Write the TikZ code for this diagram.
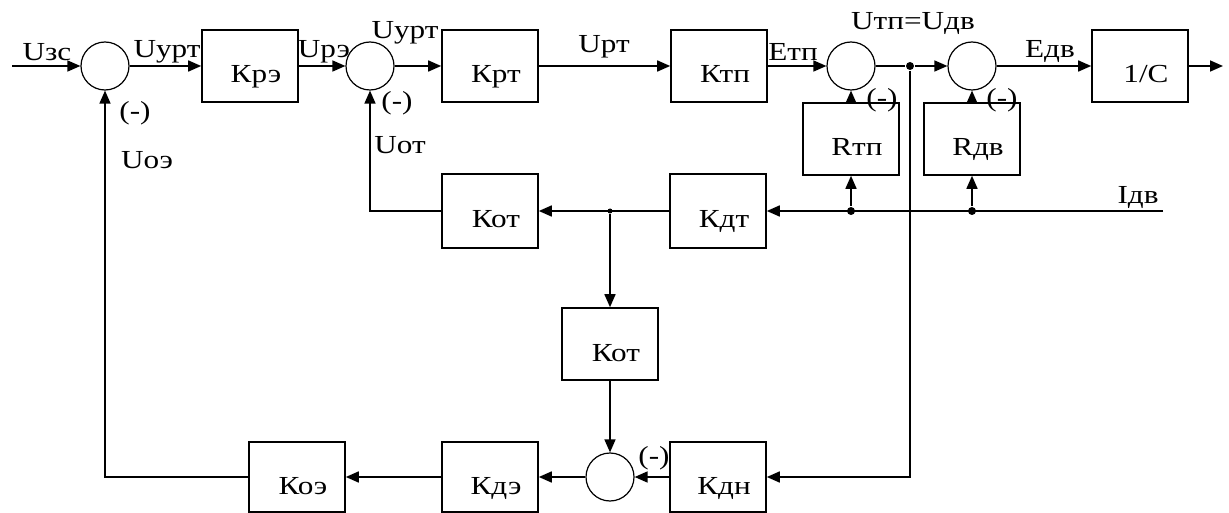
\documentclass[tikz,border=0pt]{standalone}
\usepackage{fontspec}
\setmainfont{Liberation Serif}[FakeStretch=1.2]
\usetikzlibrary{arrows.meta}
\begin{document}
\begin{tikzpicture}[x=1pt,y=-1pt,
 line width=1.6pt,
 arr/.style={-{Triangle[length=13pt,width=11pt]}},
 blk/.style={draw, minimum width=96pt, minimum height=72pt, inner sep=0pt, text height=34pt, text depth=0pt, execute at begin node={\hspace*{12pt}}},
 sumc/.style={draw, circle, minimum size=48pt, inner sep=0pt, line width=1.2pt},
 dot/.style={circle, fill, inner sep=0pt, minimum size=8pt},
 lbl/.style={inner sep=0pt},
 every node/.style={font=\fontsize{26}{26}\selectfont}]
\useasboundingbox (0,0) rectangle (1229,513);
% summers
\node[sumc] (s1) at (105,66) {};
\node[sumc] (s2) at (370,66) {};
\node[sumc] (s3) at (851,66) {};
\node[sumc] (s4) at (972,66) {};
\node[sumc] (s5) at (610,477) {};
% blocks
\node[blk] (kre) at (250,66) {Крэ};
\node[blk] (krt) at (490,66) {Крт};
\node[blk] (ktp) at (719,66) {Ктп};
\node[blk] (c1) at (1140,66) {1/C};
\node[blk] (rtp) at (851,139) {Rтп};
\node[blk] (rdv) at (972,139) {Rдв};
\node[blk, minimum height=74pt] (kdt) at (718,211) {Кдт};
\node[blk, minimum height=74pt] (kot1) at (490,211) {Кот};
\node[blk] (kot2) at (610,344) {Кот};
\node[blk, minimum height=70pt] (kdn) at (718,477) {Кдн};
\node[blk, minimum height=70pt] (kde) at (490,477) {Кдэ};
\node[blk, minimum height=70pt] (koe) at (297,477) {Коэ};
% dots and free ends
\node[dot] (j1) at (910,66) {};
\node[dot] (d1) at (851,211) {};
\node[dot] (d2) at (972,211) {};
\node[dot, minimum size=5pt] (d3) at (610,211) {};
\coordinate (in) at (12,66);
\coordinate (out) at (1223,66);
\coordinate (idv) at (1163,211);
% forward path
\draw[arr] (in) -- (s1);
\draw[arr] (s1) -- (kre);
\draw[arr] (kre) -- (s2);
\draw[arr] (s2) -- (krt);
\draw[arr] (krt) -- (ktp);
\draw[arr] (ktp) -- (s3);
\draw (s3) -- (j1);
\draw[arr] (j1) -- (s4);
\draw[arr] (s4) -- (c1);
\draw[arr] (c1) -- (out);
% current feedback
\draw[arr] (rtp) -- (s3);
\draw[arr] (rdv) -- (s4);
\draw[arr] (idv) -- (kdt);
\draw[arr] (d1) -- (rtp);
\draw[arr] (d2) -- (rdv);
\draw[arr] (kdt) -- (kot1);
\draw[arr] (kot1) -| (s2);
\draw[arr] (d3) -- (kot2);
\draw[arr] (kot2) -- (s5);
% voltage feedback
\draw[arr] (j1) |- (kdn);
\draw[arr] (kdn) -- (s5);
\draw[arr] (s5) -- (kde);
\draw[arr] (kde) -- (koe);
\draw[arr] (koe) -| (s1);
% labels
\node[lbl] (l1) at (47,52) {Uзс};
\node[lbl] (l2) at (167,52) {Uурт};
\node[lbl] (l3) at (135,113) {(-)};
\node[lbl] (l4) at (147,160) {Uоэ};
\node[lbl] (l5) at (324,52) {Uрэ};
\node[lbl] (l6) at (405,33) {Uурт};
\node[lbl] (l7) at (397,103) {(-)};
\node[lbl] (l8) at (400,145) {Uот};
\node[lbl] (l9) at (604,47) {Uрт};
\node[lbl] (l10) at (793,52) {Eтп};
\node[lbl] (l11) at (913,24) {Uтп=Uдв};
\node[lbl] (l12) at (1050,52) {Eдв};
\node[lbl] (l13) at (882,100) {(-)};
\node[lbl] (l14) at (1002,100) {(-)};
\node[lbl] (l15) at (1138,198) {Iдв};
\node[lbl] (l16) at (654,458) {(-)};
\end{tikzpicture}
\end{document}
